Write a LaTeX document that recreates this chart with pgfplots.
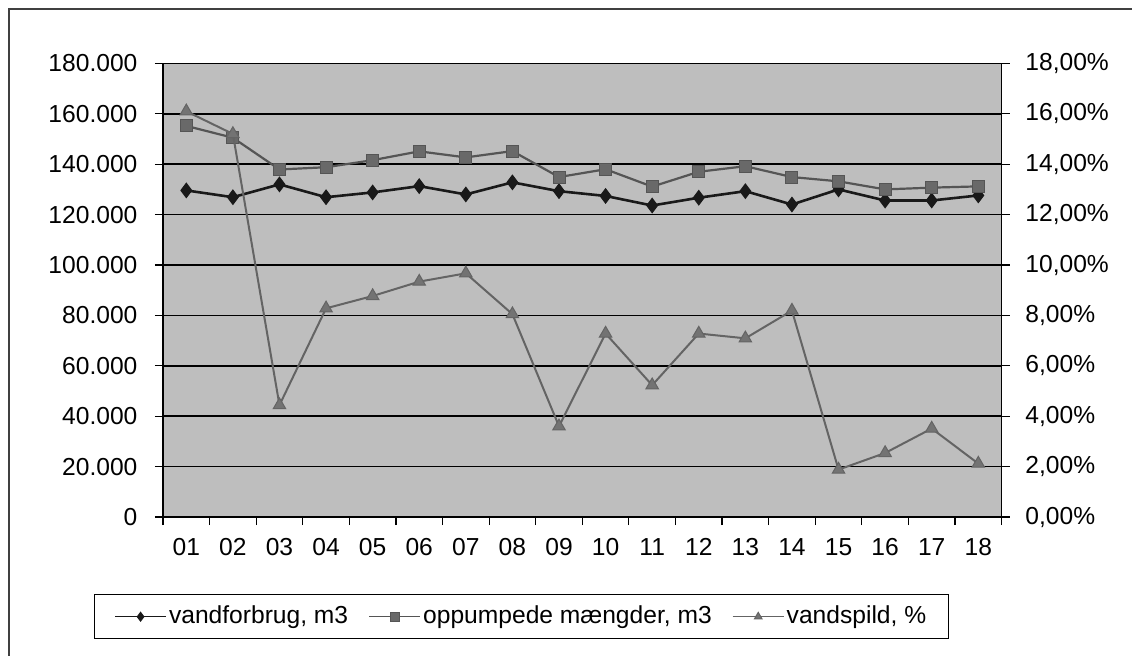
\documentclass[border=0pt]{standalone}
\usepackage{fontspec}
\setmainfont{Liberation Sans}
\usepackage{pgfplots}
\pgfplotsset{compat=1.18}
\definecolor{plotbg}{RGB}{190,190,190}
\definecolor{cA}{RGB}{25,25,25}
\definecolor{cB}{RGB}{85,85,85}
\definecolor{cBf}{RGB}{105,105,105}
\definecolor{cC}{RGB}{100,100,100}
\definecolor{cCf}{RGB}{115,115,115}

\pgfplotstableread{
x forbrug oppumpet spild
0  129600 155200 16.10
1  126900 150500 15.20
2  132000 137900 4.44
3  126900 138800 8.28
4  128800 141600 8.77
5  131300 145100 9.34
6  128000 142700 9.67
7  132800 145200 8.05
8  129300 134900 3.60
9  127400 138000 7.28
10 123600 131100 5.23
11 126700 137000 7.28
12 129300 139200 7.09
13 124000 134900 8.19
14 130000 133200 1.88
15 125600 130000 2.54
16 125600 130700 3.51
17 127600 131200 2.12
}\datatable

\begin{document}
\begin{tikzpicture}
\fontsize{12.3}{14.5}\selectfont
\useasboundingbox (0,0) rectangle (566pt,327.5pt);
\draw[line width=0.7pt, black!75] (4.5pt,-5pt) -- (4.5pt,323pt) -- (570pt,323pt);
\pgfplotsset{
  common/.style={
    at={(81.5pt,69pt)}, anchor=south west, scale only axis,
    width=419.3pt, height=226.8pt,
    xmin=-0.5, xmax=17.5,
    tick align=outside, major tick length=4pt, minor tick length=4pt,
    tick style={black, line width=0.6pt},
    axis line style={black, line width=0.8pt},
    scaled y ticks=false, scaled x ticks=false,
    /pgf/number format/assume math mode=true,
    ticklabel style={font=\fontsize{12.3}{14.5}\selectfont},
  },
}
\begin{axis}[common,
  ymin=0, ymax=180000,
  axis background/.style={fill=plotbg},
  axis y line*=left, axis x line*=bottom,
  xtick={0,...,17},
  xticklabels={01,02,03,04,05,06,07,08,09,10,11,12,13,14,15,16,17,18},
  minor xtick={-0.5,0.5,...,17.5},
  major x tick style={draw=none},
  xticklabel style={yshift=-2.5pt},
  ytick={0,20000,...,180000},
  yticklabels={0,20.000,40.000,60.000,80.000,100.000,120.000,140.000,160.000,180.000},
  yticklabel style={xshift=-4.5pt},
  ymajorgrids, grid style={black, line width=0.8pt},
  legend columns=-1,
  legend style={at={(-0.0823,-0.1697)}, anchor=north west, draw=black, line width=0.6pt,
    fill=white, inner xsep=10pt, inner ysep=4.7pt,
    font=\fontsize{12.3}{14.5}\selectfont,
    nodes={inner xsep=1.25pt, inner ysep=1pt},
    /tikz/every even column/.append style={column sep=9pt}},
  legend cell align=left,
  legend image code/.code={\draw[mark repeat=2,mark phase=2,line width=0.5pt,#1,mark size=2.2pt] plot coordinates {(0pt,0pt) (12.75pt,0pt) (25.5pt,0pt)};},
]
\addplot[cA, line width=1.3pt, mark=diamond*, mark size=3.6pt, mark options={fill=cA, draw=cA, line width=0.5pt}] table[x=x, y=forbrug] {\datatable};
\addlegendentry{vandforbrug, m3}
\addplot[cB, line width=1.1pt, mark=square*, mark size=3pt, mark options={fill=cBf, draw=cB, line width=0.5pt}] table[x=x, y=oppumpet] {\datatable};
\addlegendentry{oppumpede mængder, m3}
\addlegendimage{cC, line width=1pt, mark=triangle*, mark options={fill=cCf, draw=cC, line width=0.5pt}}
\addlegendentry{vandspild, \%}
\end{axis}
\begin{axis}[common,
  ymin=0, ymax=18,
  axis y line*=right, axis x line=none,
  ytick={0,2,...,18},
  yticklabels={{0,00\%},{2,00\%},{4,00\%},{6,00\%},{8,00\%},{10,00\%},{12,00\%},{14,00\%},{16,00\%},{18,00\%}},
  yticklabel style={xshift=3.6pt},
]
\addplot[cC, line width=1pt, mark=triangle*, mark size=3.6pt, mark options={fill=cCf, draw=cC, line width=0.5pt}] table[x=x, y=spild] {\datatable};
\end{axis}
\end{tikzpicture}
\end{document}
